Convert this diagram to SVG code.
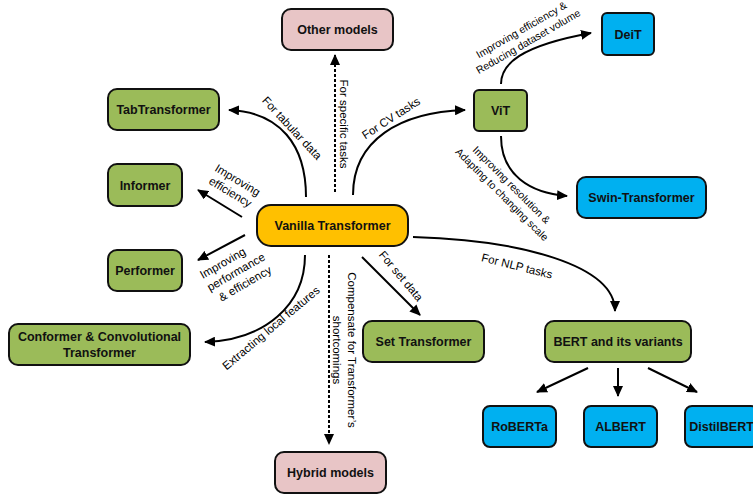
<svg xmlns="http://www.w3.org/2000/svg" width="753" height="494" viewBox="0 0 753 494">
  <defs>
    <marker id="arrow" markerUnits="userSpaceOnUse" markerWidth="11" markerHeight="10" refX="10" refY="5" orient="auto">
      <path d="M0,0 L11,5 L0,10 z" fill="#000"/>
    </marker>
    <style>
      .node rect { stroke: #111; stroke-width: 2; }
      .green rect { fill: #9BBB59; }
      .blue rect { fill: #00B0F0; }
      .pink rect { fill: #E8C5C6; }
      .orange rect { fill: #FFC000; }
      .node text { font-family: "Liberation Sans", Arial, sans-serif; font-weight: bold; font-size: 12.5px; fill: #111; text-anchor: middle; }
      .edge { fill: none; stroke: #000; stroke-width: 2; marker-end: url(#arrow); }
      .dash { stroke-dasharray: 3 2; }
      .lbl { font-family: "Liberation Sans", Arial, sans-serif; font-size: 11.5px; fill: #000; text-anchor: middle; }
      .sm { font-size: 10.5px; }
    </style>
  </defs>

  <!-- connectors -->
  <g id="connectors">
    <path class="edge" d="M306,197 C306,145 280,112 229,110"/>
    <path class="edge" d="M242,217 L198,190"/>
    <path class="edge" d="M245,235 L198,260"/>
    <path class="edge" d="M305,255 C305,305 265,340 205,342"/>
    <path class="edge dash" d="M335,192 L335,55"/>
    <path class="edge" d="M353,195 C353,140 400,112 465,110"/>
    <path class="edge" d="M501,84 C501,64 520,46 591,33"/>
    <path class="edge" d="M501,136 C501,175 530,193 567,196"/>
    <path class="edge" d="M362,257 L420,315"/>
    <path class="edge" d="M413,237 C520,240 615,265 615,311"/>
    <path class="edge dash" d="M329,255 L329,444"/>
    <path class="edge" d="M588,368 L537,392"/>
    <path class="edge" d="M618,368 L618,396"/>
    <path class="edge" d="M648,368 L697,392"/>

    <!-- connector labels -->
    <text class="lbl" transform="translate(292,128) rotate(47)" y="4">For tabular data</text>
    <text class="lbl" transform="translate(344,124) rotate(90)" y="4">For specific tasks</text>
    <text class="lbl" transform="translate(391,118) rotate(-33)" y="4">For CV tasks</text>
    <g transform="translate(525,36) rotate(-30)">
      <text class="lbl sm" y="-3.5">Improving efficiency &amp;</text>
      <text class="lbl sm" y="10">Reducing dataset volume</text>
    </g>
    <g transform="translate(506.5,190) rotate(45)">
      <text class="lbl sm" y="-3.5">Improving resolution &amp;</text>
      <text class="lbl sm" y="10">Adapting to changing scale</text>
    </g>
    <g transform="translate(234,186) rotate(31)">
      <text class="lbl" y="-3">Improving</text>
      <text class="lbl" y="11">efficiency</text>
    </g>
    <g transform="translate(236,272) rotate(-30)">
      <text class="lbl" x="-7" y="-10.5">Improving</text>
      <text class="lbl" y="4">performance</text>
      <text class="lbl" x="2" y="18.5">&amp; efficiency</text>
    </g>
    <text class="lbl" transform="translate(271,328) rotate(-40)" y="4">Extracting local features</text>
    <text class="lbl" transform="translate(401,276) rotate(50)" y="4">For set data</text>
    <text class="lbl" transform="translate(517,266) rotate(14)" y="4">For NLP tasks</text>
    <g transform="translate(345,350) rotate(90)">
      <text class="lbl" y="-3">Compensate for Transformer’s</text>
      <text class="lbl" y="12">shortcomings</text>
    </g>
  </g>

  <!-- nodes -->
  <g id="vanilla" class="node orange">
    <rect x="257" y="205" width="151" height="41" rx="14"/>
    <text x="332.5" y="230">Vanilla Transformer</text>
  </g>
  <g id="other-models" class="node pink">
    <rect x="282" y="9" width="111" height="41" rx="9"/>
    <text x="337.5" y="34">Other models</text>
  </g>
  <g id="hybrid-models" class="node pink">
    <rect x="275" y="452" width="111" height="41" rx="9"/>
    <text x="330.5" y="477">Hybrid models</text>
  </g>
  <g id="tabtransformer" class="node green">
    <rect x="108" y="89" width="111" height="41" rx="9"/>
    <text x="163.5" y="114">TabTransformer</text>
  </g>
  <g id="informer" class="node green">
    <rect x="108" y="164" width="74" height="42" rx="9"/>
    <text x="145" y="189.5">Informer</text>
  </g>
  <g id="performer" class="node green">
    <rect x="108" y="250" width="74" height="41" rx="9"/>
    <text x="145" y="275">Performer</text>
  </g>
  <g id="conformer" class="node green">
    <rect x="9" y="324" width="181" height="41" rx="9"/>
    <text x="99.5" y="341">Conformer &amp; Convolutional</text>
    <text x="99.5" y="357">Transformer</text>
  </g>
  <g id="set-transformer" class="node green">
    <rect x="363" y="321" width="121" height="41" rx="9"/>
    <text x="423.5" y="346">Set Transformer</text>
  </g>
  <g id="vit" class="node green">
    <rect x="474" y="90" width="53" height="41" rx="5"/>
    <text x="500.5" y="115">ViT</text>
  </g>
  <g id="deit" class="node blue">
    <rect x="602" y="13" width="52" height="42" rx="5"/>
    <text x="628" y="38.5">DeiT</text>
  </g>
  <g id="swin" class="node blue">
    <rect x="577" y="177" width="129" height="41" rx="9"/>
    <text x="641.5" y="202">Swin-Transformer</text>
  </g>
  <g id="bert" class="node green">
    <rect x="545" y="321" width="146" height="41" rx="9"/>
    <text x="618" y="346">BERT and its variants</text>
  </g>
  <g id="roberta" class="node blue">
    <rect x="483" y="406" width="73" height="41" rx="7"/>
    <text x="519.5" y="431">RoBERTa</text>
  </g>
  <g id="albert" class="node blue">
    <rect x="584" y="406" width="73" height="41" rx="7"/>
    <text x="620.5" y="431">ALBERT</text>
  </g>
  <g id="distilbert" class="node blue">
    <rect x="685" y="406" width="73" height="41" rx="7"/>
    <text x="721.5" y="431">DistilBERT</text>
  </g>
</svg>
